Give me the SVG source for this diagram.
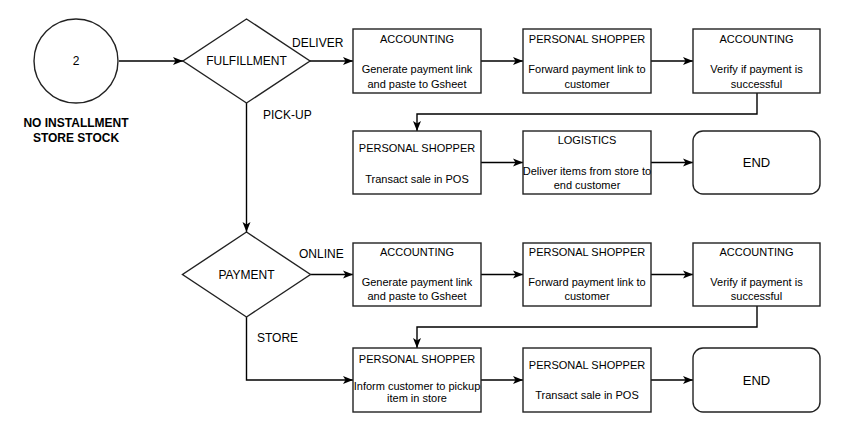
<svg xmlns="http://www.w3.org/2000/svg" width="860" height="447" viewBox="0 0 860 447">
<defs>
<marker id="arr" viewBox="0 0 10 10" refX="10" refY="5" markerWidth="10" markerHeight="10" markerUnits="userSpaceOnUse" orient="auto">
<path d="M0,1 L10,5 L0,9 L2.5,5 Z" fill="#000"/>
</marker>
</defs>
<style>
.s{fill:#fff;stroke:#222;stroke-width:1.4}
.c{fill:none;stroke:#000;stroke-width:1.4;marker-end:url(#arr)}
text{font-family:"Liberation Sans",Arial,sans-serif;fill:#000;text-anchor:middle}
.h{font-size:11px}
.b{font-size:11px}
.l{font-size:12px;text-anchor:start}
.d{font-size:12px}
.e{font-size:13px}
.t{font-size:12px;font-weight:bold}
</style>
<rect width="860" height="447" fill="#fff"/>
<g id="connectors">
<path class="c" d="M119,61 L183,61"/>
<path class="c" d="M310,61 L353,61"/>
<path class="c" d="M481,61 L523,61"/>
<path class="c" d="M651,61 L693,61"/>
<path class="c" d="M757,93 L757,114 L417,114 L417,131"/>
<path class="c" d="M481,162.5 L523,162.5"/>
<path class="c" d="M651,162.5 L693,162.5"/>
<path class="c" d="M246.5,103 L246.5,232"/>
<path class="c" d="M310.5,274.5 L353,274.5"/>
<path class="c" d="M481,274.5 L523,274.5"/>
<path class="c" d="M651,274.5 L693,274.5"/>
<path class="c" d="M757,306 L757,327 L417,327 L417,348"/>
<path class="c" d="M246.5,317 L246.5,380 L353,380"/>
<path class="c" d="M481,380 L523,380"/>
<path class="c" d="M651,380 L693,380"/>
<text class="l" x="292" y="47">DELIVER</text>
<text class="l" x="263" y="119">PICK-UP</text>
<text class="l" x="299" y="258">ONLINE</text>
<text class="l" x="257" y="342">STORE</text>
</g>
<g id="start">
<circle class="s" cx="76" cy="61" r="42"/>
<text class="d" x="76" y="65">2</text>
<text class="t" x="76" y="127">NO INSTALLMENT</text>
<text class="t" x="76" y="142">STORE STOCK</text>
</g>
<g id="fulfillment">
<polygon class="s" points="246.5,19 310,61 246.5,103 183,61"/>
<text class="d" x="246.5" y="65">FULFILLMENT</text>
</g>
<g id="d-acc1">
<rect class="s" x="353" y="29" width="128" height="64"/>
<text class="h" x="417" y="43">ACCOUNTING</text>
<text class="b" x="417" y="73">Generate payment link</text>
<text class="b" x="417" y="88">and paste to Gsheet</text>
</g>
<g id="d-ps1">
<rect class="s" x="523" y="29" width="128" height="64"/>
<text class="h" x="587" y="43">PERSONAL SHOPPER</text>
<text class="b" x="587" y="73">Forward payment link to</text>
<text class="b" x="587" y="88">customer</text>
</g>
<g id="d-acc2">
<rect class="s" x="693" y="29" width="127" height="64"/>
<text class="h" x="756.5" y="43">ACCOUNTING</text>
<text class="b" x="756.5" y="73">Verify if payment is</text>
<text class="b" x="756.5" y="88">successful</text>
</g>
<g id="d-ps2">
<rect class="s" x="353" y="131" width="128" height="63"/>
<text class="h" x="417" y="152">PERSONAL SHOPPER</text>
<text class="b" x="417" y="183">Transact sale in POS</text>
</g>
<g id="d-log">
<rect class="s" x="523" y="131" width="128" height="63"/>
<text class="h" x="587" y="144">LOGISTICS</text>
<text class="b" x="587" y="175">Deliver items from store to</text>
<text class="b" x="587" y="189">end customer</text>
</g>
<g id="end1">
<rect class="s" x="693" y="131" width="127" height="63" rx="10"/>
<text class="e" x="756.5" y="167">END</text>
</g>
<g id="payment">
<polygon class="s" points="246.5,232 310.5,274.5 246.5,317 182.5,274.5"/>
<text class="d" x="246.5" y="278.5">PAYMENT</text>
</g>
<g id="o-acc1">
<rect class="s" x="353" y="243" width="128" height="63"/>
<text class="h" x="417" y="256">ACCOUNTING</text>
<text class="b" x="417" y="286">Generate payment link</text>
<text class="b" x="417" y="300">and paste to Gsheet</text>
</g>
<g id="o-ps1">
<rect class="s" x="523" y="243" width="128" height="63"/>
<text class="h" x="587" y="256">PERSONAL SHOPPER</text>
<text class="b" x="587" y="286">Forward payment link to</text>
<text class="b" x="587" y="300">customer</text>
</g>
<g id="o-acc2">
<rect class="s" x="693" y="243" width="127" height="63"/>
<text class="h" x="756.5" y="256">ACCOUNTING</text>
<text class="b" x="756.5" y="286">Verify if payment is</text>
<text class="b" x="756.5" y="300">successful</text>
</g>
<g id="s-ps1">
<rect class="s" x="353" y="348" width="128" height="64"/>
<text class="h" x="417" y="363">PERSONAL SHOPPER</text>
<text class="b" x="417" y="389.5">Inform customer to pickup</text>
<text class="b" x="417" y="402">item in store</text>
</g>
<g id="s-ps2">
<rect class="s" x="523" y="348" width="128" height="64"/>
<text class="h" x="587" y="368.5">PERSONAL SHOPPER</text>
<text class="b" x="587" y="399">Transact sale in POS</text>
</g>
<g id="end2">
<rect class="s" x="693" y="348" width="127" height="64" rx="10"/>
<text class="e" x="756.5" y="384.5">END</text>
</g>
</svg>
